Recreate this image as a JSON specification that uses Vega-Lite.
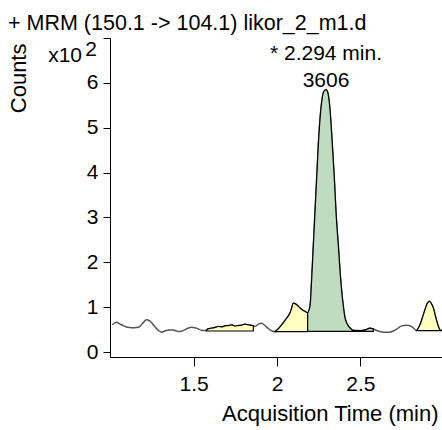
{
  "$schema": "https://vega.github.io/schema/vega-lite/v6.json",
  "autosize": "none",
  "width": 332,
  "height": 319,
  "padding": {"left": 110, "top": 38, "right": 0, "bottom": 73},
  "background": "white",
  "config": {
    "font": "Liberation Sans",
    "view": {"stroke": null},
    "axis": {"grid": false, "domainColor": "#000", "tickColor": "#000", "labelColor": "#000", "titleColor": "#000", "labelFont": "Liberation Sans", "titleFont": "Liberation Sans", "titleFontWeight": "normal"}
  },
  "title": {
    "text": "+ MRM (150.1 -> 104.1) likor_2_m1.d",
    "anchor": "start",
    "frame": "group",
    "dx": -102,
    "dy": 4,
    "fontSize": 21.5,
    "fontWeight": "normal",
    "font": "Liberation Sans",
    "color": "#000",
    "baseline": "alphabetic",
    "offset": -20
  },
  "datasets": {
    "trace": [
      {"t":1.012,"y":0.61},{"t":1.036,"y":0.667},{"t":1.056,"y":0.63},{"t":1.076,"y":0.591},{"t":1.096,"y":0.56},{"t":1.116,"y":0.546},{"t":1.136,"y":0.54},{"t":1.156,"y":0.546},{"t":1.176,"y":0.569},{"t":1.196,"y":0.65},{"t":1.216,"y":0.719},{"t":1.236,"y":0.697},{"t":1.251,"y":0.64},{"t":1.266,"y":0.569},{"t":1.286,"y":0.49},{"t":1.306,"y":0.443},{"t":1.321,"y":0.46},{"t":1.336,"y":0.479},{"t":1.356,"y":0.49},{"t":1.376,"y":0.494},{"t":1.396,"y":0.47},{"t":1.416,"y":0.456},{"t":1.431,"y":0.47},{"t":1.446,"y":0.494},{"t":1.466,"y":0.53},{"t":1.486,"y":0.555},{"t":1.501,"y":0.545},{"t":1.516,"y":0.533},{"t":1.536,"y":0.5},{"t":1.556,"y":0.479},{"t":1.575,"y":0.48},{"t":1.586,"y":0.517},{"t":1.606,"y":0.53},{"t":1.626,"y":0.546},{"t":1.648,"y":0.57},{"t":1.668,"y":0.56},{"t":1.688,"y":0.584},{"t":1.708,"y":0.59},{"t":1.728,"y":0.607},{"t":1.748,"y":0.58},{"t":1.768,"y":0.591},{"t":1.788,"y":0.6},{"t":1.808,"y":0.622},{"t":1.823,"y":0.61},{"t":1.838,"y":0.6},{"t":1.858,"y":0.584},{"t":1.868,"y":0.569},{"t":1.888,"y":0.622},{"t":1.908,"y":0.645},{"t":1.928,"y":0.591},{"t":1.943,"y":0.54},{"t":1.958,"y":0.494},{"t":1.973,"y":0.465},{"t":1.988,"y":0.456},{"t":2.008,"y":0.52},{"t":2.028,"y":0.607},{"t":2.043,"y":0.68},{"t":2.058,"y":0.757},{"t":2.078,"y":0.87},{"t":2.088,"y":0.98},{"t":2.098,"y":1.094},{"t":2.108,"y":1.08},{"t":2.118,"y":1.056},{"t":2.138,"y":0.982},{"t":2.153,"y":0.94},{"t":2.168,"y":0.906},{"t":2.184,"y":0.87},{"t":2.198,"y":1.018},{"t":2.208,"y":1.618},{"t":2.218,"y":2.366},{"t":2.228,"y":3.117},{"t":2.238,"y":3.865},{"t":2.248,"y":4.613},{"t":2.262,"y":5.364},{"t":2.27,"y":5.62},{"t":2.28,"y":5.8},{"t":2.294,"y":5.85},{"t":2.305,"y":5.78},{"t":2.314,"y":5.55},{"t":2.322,"y":5.2},{"t":2.332,"y":4.613},{"t":2.344,"y":3.865},{"t":2.354,"y":3.117},{"t":2.368,"y":2.366},{"t":2.382,"y":1.618},{"t":2.398,"y":1.018},{"t":2.408,"y":0.764},{"t":2.428,"y":0.584},{"t":2.443,"y":0.52},{"t":2.458,"y":0.483},{"t":2.483,"y":0.48},{"t":2.508,"y":0.479},{"t":2.533,"y":0.5},{"t":2.558,"y":0.533},{"t":2.578,"y":0.517},{"t":2.598,"y":0.479},{"t":2.618,"y":0.46},{"t":2.638,"y":0.443},{"t":2.658,"y":0.44},{"t":2.678,"y":0.443},{"t":2.698,"y":0.47},{"t":2.718,"y":0.51},{"t":2.733,"y":0.55},{"t":2.748,"y":0.584},{"t":2.778,"y":0.6},{"t":2.808,"y":0.569},{"t":2.823,"y":0.52},{"t":2.838,"y":0.479},{"t":2.858,"y":0.607},{"t":2.873,"y":0.77},{"t":2.888,"y":0.944},{"t":2.901,"y":1.08},{"t":2.914,"y":1.13},{"t":2.926,"y":1.08},{"t":2.938,"y":0.982},{"t":2.95,"y":0.81},{"t":2.962,"y":0.645},{"t":2.978,"y":0.494},{"t":2.988,"y":0.48}
    ],
    "peaks": [
      {"region":"p1","kind":"minor","t":1.575,"y":0.48,"base":0.47},{"region":"p1","kind":"minor","t":1.586,"y":0.517,"base":0.47},{"region":"p1","kind":"minor","t":1.606,"y":0.53,"base":0.47},{"region":"p1","kind":"minor","t":1.626,"y":0.546,"base":0.47},{"region":"p1","kind":"minor","t":1.648,"y":0.57,"base":0.47},{"region":"p1","kind":"minor","t":1.668,"y":0.56,"base":0.47},{"region":"p1","kind":"minor","t":1.688,"y":0.584,"base":0.47},{"region":"p1","kind":"minor","t":1.708,"y":0.59,"base":0.47},{"region":"p1","kind":"minor","t":1.728,"y":0.607,"base":0.47},{"region":"p1","kind":"minor","t":1.748,"y":0.58,"base":0.47},{"region":"p1","kind":"minor","t":1.768,"y":0.591,"base":0.47},{"region":"p1","kind":"minor","t":1.788,"y":0.6,"base":0.47},{"region":"p1","kind":"minor","t":1.808,"y":0.622,"base":0.47},{"region":"p1","kind":"minor","t":1.823,"y":0.61,"base":0.47},{"region":"p1","kind":"minor","t":1.838,"y":0.6,"base":0.47},{"region":"p1","kind":"minor","t":1.858,"y":0.584,"base":0.47},
      {"region":"p2","kind":"minor","t":1.988,"y":0.456,"base":0.456},{"region":"p2","kind":"minor","t":2.008,"y":0.52,"base":0.456},{"region":"p2","kind":"minor","t":2.028,"y":0.607,"base":0.456},{"region":"p2","kind":"minor","t":2.043,"y":0.68,"base":0.456},{"region":"p2","kind":"minor","t":2.058,"y":0.757,"base":0.456},{"region":"p2","kind":"minor","t":2.078,"y":0.87,"base":0.456},{"region":"p2","kind":"minor","t":2.088,"y":0.98,"base":0.456},{"region":"p2","kind":"minor","t":2.098,"y":1.094,"base":0.456},{"region":"p2","kind":"minor","t":2.108,"y":1.08,"base":0.456},{"region":"p2","kind":"minor","t":2.118,"y":1.056,"base":0.456},{"region":"p2","kind":"minor","t":2.138,"y":0.982,"base":0.456},{"region":"p2","kind":"minor","t":2.153,"y":0.94,"base":0.456},{"region":"p2","kind":"minor","t":2.168,"y":0.906,"base":0.456},{"region":"p2","kind":"minor","t":2.184,"y":0.87,"base":0.456},
      {"region":"p3","kind":"main","t":2.184,"y":0.87,"base":0.46},{"region":"p3","kind":"main","t":2.198,"y":1.018,"base":0.46},{"region":"p3","kind":"main","t":2.208,"y":1.618,"base":0.46},{"region":"p3","kind":"main","t":2.218,"y":2.366,"base":0.46},{"region":"p3","kind":"main","t":2.228,"y":3.117,"base":0.46},{"region":"p3","kind":"main","t":2.238,"y":3.865,"base":0.46},{"region":"p3","kind":"main","t":2.248,"y":4.613,"base":0.46},{"region":"p3","kind":"main","t":2.262,"y":5.364,"base":0.46},{"region":"p3","kind":"main","t":2.27,"y":5.62,"base":0.46},{"region":"p3","kind":"main","t":2.28,"y":5.8,"base":0.46},{"region":"p3","kind":"main","t":2.294,"y":5.85,"base":0.46},{"region":"p3","kind":"main","t":2.305,"y":5.78,"base":0.46},{"region":"p3","kind":"main","t":2.314,"y":5.55,"base":0.46},{"region":"p3","kind":"main","t":2.322,"y":5.2,"base":0.46},{"region":"p3","kind":"main","t":2.332,"y":4.613,"base":0.46},{"region":"p3","kind":"main","t":2.344,"y":3.865,"base":0.46},{"region":"p3","kind":"main","t":2.354,"y":3.117,"base":0.46},{"region":"p3","kind":"main","t":2.368,"y":2.366,"base":0.46},{"region":"p3","kind":"main","t":2.382,"y":1.618,"base":0.46},{"region":"p3","kind":"main","t":2.398,"y":1.018,"base":0.46},{"region":"p3","kind":"main","t":2.408,"y":0.764,"base":0.46},{"region":"p3","kind":"main","t":2.428,"y":0.584,"base":0.46},{"region":"p3","kind":"main","t":2.443,"y":0.52,"base":0.46},{"region":"p3","kind":"main","t":2.458,"y":0.483,"base":0.46},{"region":"p3","kind":"main","t":2.483,"y":0.48,"base":0.46},{"region":"p3","kind":"main","t":2.508,"y":0.479,"base":0.46},{"region":"p3","kind":"main","t":2.533,"y":0.5,"base":0.46},{"region":"p3","kind":"main","t":2.558,"y":0.533,"base":0.46},{"region":"p3","kind":"main","t":2.578,"y":0.517,"base":0.46},
      {"region":"p4","kind":"minor","t":2.838,"y":0.479,"base":0.479},{"region":"p4","kind":"minor","t":2.858,"y":0.607,"base":0.479},{"region":"p4","kind":"minor","t":2.873,"y":0.77,"base":0.479},{"region":"p4","kind":"minor","t":2.888,"y":0.944,"base":0.479},{"region":"p4","kind":"minor","t":2.901,"y":1.08,"base":0.479},{"region":"p4","kind":"minor","t":2.914,"y":1.13,"base":0.479},{"region":"p4","kind":"minor","t":2.926,"y":1.08,"base":0.479},{"region":"p4","kind":"minor","t":2.938,"y":0.982,"base":0.479},{"region":"p4","kind":"minor","t":2.95,"y":0.81,"base":0.479},{"region":"p4","kind":"minor","t":2.962,"y":0.645,"base":0.479},{"region":"p4","kind":"minor","t":2.978,"y":0.494,"base":0.479},{"region":"p4","kind":"minor","t":2.988,"y":0.48,"base":0.479}
    ],
    "notes": [
      {"t": 2.294, "y": 5.85, "label": "* 2.294 min.\n3606"}
    ],
    "scaleNote": [
      {"t": 0.83, "y": 6.465, "label": "x10"},
      {"t": 0.92, "y": 6.6, "label": "2"}
    ]
  },
  "encoding": {
    "x": {
      "field": "t", "type": "quantitative",
      "scale": {"domain": [0.998, 2.99], "nice": false, "zero": false},
      "axis": {
        "values": [1.5, 2, 2.5],
        "format": "~g",
        "title": "Acquisition Time (min)",
        "labelFontSize": 21,
        "tickSize": 9,
        "labelPadding": 7,
        "titleFontSize": 22,
        "titleAnchor": "end",
        "titleAlign": "right",
        "titleX": 328,
        "titleY": 63,
        "titleBaseline": "alphabetic",
        "labelFlush": false
      }
    },
    "y": {
      "field": "y", "type": "quantitative",
      "scale": {"domain": [-0.11, 7.0], "nice": false, "zero": false},
      "axis": {
        "values": [0, 1, 2, 3, 4, 5, 6, 7],
        "labelExpr": "datum.value == 7 ? '' : datum.label",
        "labelFontSize": 21,
        "tickSize": 7,
        "labelPadding": 5,
        "labelOverlap": false,
        "labelFlush": false,
        "title": "Counts",
        "titleFontSize": 22,
        "titleX": -92,
        "titleY": 5,
        "titleAlign": "right",
        "titleBaseline": "middle"
      }
    }
  },
  "layer": [
    {
      "data": {"name": "trace"},
      "mark": {"type": "line", "color": "#555555", "strokeWidth": 1.5, "interpolate": "monotone"}
    },
    {
      "data": {"name": "peaks"},
      "mark": {"type": "area", "stroke": "#000000", "strokeWidth": 1.2, "interpolate": "monotone"},
      "encoding": {
        "y2": {"field": "base"},
        "detail": {"field": "region"},
        "color": {"field": "kind", "type": "nominal", "scale": {"domain": ["minor", "main"], "range": ["#ffffc0", "#c0dcc0"]}, "legend": null}
      }
    },
    {
      "data": {"name": "notes"},
      "mark": {"type": "text", "fontSize": 21, "color": "#000", "baseline": "alphabetic", "align": "center", "lineBreak": "\n", "lineHeight": 27, "dy": -30, "font": "Liberation Sans"},
      "encoding": {"text": {"field": "label"}}
    },
    {
      "data": {"name": "scaleNote"},
      "mark": {"type": "text", "fontSize": 21, "color": "#000", "baseline": "alphabetic", "align": "right", "font": "Liberation Sans", "clip": false},
      "encoding": {"text": {"field": "label"}}
    }
  ]
}
